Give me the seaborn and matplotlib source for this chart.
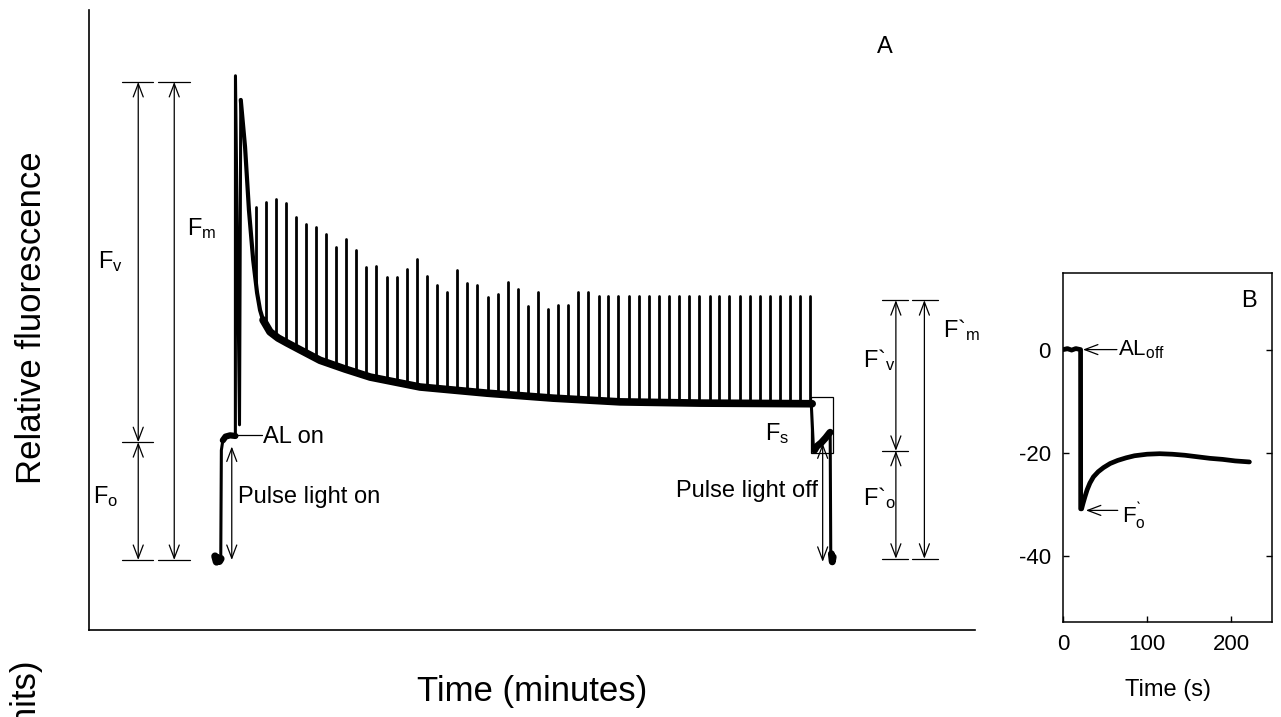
import numpy as np
import pandas as pd
import matplotlib
matplotlib.use("Agg")
import matplotlib.pyplot as plt
import seaborn as sns
from matplotlib.patches import Rectangle

# ---------------- Panel A data (time in minutes, relative fluorescence) ----------------
# dark level, pulse light on, AL on (Fm flash)
t_start = [4.10, 4.15, 4.20, 4.24, 4.29, 4.31, 4.36, 4.45, 4.60, 4.777, 4.78, 4.915, 4.957]
f_start = [11.9, 11.0, 11.6, 11.1, 11.5, 29.0, 30.6, 31.2, 31.4, 31.3, 89.4, 33.1, 85.5]

# steady-state decay of the fluorescence under actinic light
t_base = [4.957, 5.10, 5.23, 5.37, 5.50, 5.60, 5.70, 5.93, 6.20, 6.50, 6.93, 7.60,
          8.43, 9.27, 10.10, 10.93, 13.17, 15.37, 17.60, 20.27, 24.00]
f_base = [85.5, 77.9, 67.7, 59.7, 54.4, 51.6, 50.0, 48.1, 47.1, 46.3, 45.2, 43.5,
          42.1, 40.8, 40.0, 39.2, 38.2, 37.4, 36.8, 36.6, 36.5]

# saturating pulses (times and peak heights)
t_spike = [5.46, 5.79, 6.12, 6.46, 6.80, 7.13, 7.47, 7.80, 8.14, 8.48,
           8.81, 9.14, 9.48, 9.82, 10.16, 10.50, 10.83, 11.18, 11.51, 11.84,
           12.18, 12.51, 12.84, 13.19, 13.52, 13.86, 14.19, 14.53, 14.87, 15.20,
           15.53, 15.87, 16.21, 16.54, 16.88, 17.21, 17.54, 17.88, 18.22, 18.56,
           18.90, 19.23, 19.57, 19.90, 20.23, 20.58, 20.91, 21.24, 21.59, 21.92,
           22.26, 22.59, 22.93, 23.27, 23.60, 23.93]
f_spike = [68.3, 69.1, 69.6, 68.8, 66.6, 65.5, 65.0, 63.9, 61.8, 63.1,
           61.3, 58.5, 58.7, 56.9, 56.9, 58.2, 59.8, 57.1, 55.6, 54.6,
           58.0, 55.9, 55.6, 53.7, 54.2, 56.2, 55.0, 52.3, 54.6, 51.8,
           52.5, 52.5, 54.6, 54.6, 53.8, 53.8, 53.8, 53.8, 53.8, 53.8,
           53.8, 53.8, 53.8, 53.8, 53.8, 53.8, 53.8, 53.8, 53.8, 53.8,
           53.8, 53.8, 53.8, 53.8, 53.8, 53.8]

# AL off, Fs -> F'o, pulse light off
t_end = [23.97, 24.04, 24.08, 24.15, 24.30, 24.45, 24.58, 24.60, 24.62]
f_end = [36.5, 29.6, 29.0, 29.6, 30.2, 31.0, 31.8, 31.9, 11.8]
t_blob = [24.64, 24.67, 24.70]
f_blob = [12.3, 11.0, 11.8]

# annotation levels
fo_dark = 11.3
fo = 30.3
fm = 88.4
fm_p = 53.2
fo_p = 28.9
fo_dark2 = 11.5

# ---------------- Panel B data (time in s, relative fluorescence) ----------------
t_b = [0, 5, 10, 15, 20.7, 20.8, 21.9, 23.5, 25.8, 28.5, 31.8, 36.0, 41.7, 48.0,
       56.0, 65.0, 75.0, 85.0, 100, 115, 130, 145, 160, 175, 190, 205, 222]
f_b = [0.0, 0.2, -0.1, 0.2, 0.0, -30.9, -30.9, -29.9, -28.6, -27.2, -25.9, -24.7,
       -23.7, -22.9, -22.1, -21.5, -21.0, -20.6, -20.3, -20.2, -20.3, -20.5,
       -20.8, -21.1, -21.3, -21.6, -21.8]
b_xticks = [0, 100, 200]
b_yticks = [0, -20, -40]
b_al_off = 0.0
b_fo_p = -31.2

# ---------------- style ----------------
sns.set_theme(style="ticks")
plt.rcParams["font.family"] = ["Liberation Sans", "DejaVu Sans"]
plt.rcParams["mathtext.default"] = "regular"
plt.rcParams["axes.unicode_minus"] = False
k = "black"
for key in ["text.color", "axes.labelcolor", "xtick.color", "ytick.color", "axes.edgecolor"]:
    plt.rcParams[key] = k

fig = plt.figure(figsize=(12.81, 7.17), dpi=100)
ax = fig.add_axes([0.0695, 0.1213, 0.6917, 0.8647])

# trace
sns.lineplot(x=t_start, y=f_start, sort=False, estimator=None, color=k, lw=2.2, ax=ax)
sns.lineplot(x=t_start[:5], y=f_start[:5], sort=False, estimator=None, color=k, lw=5.5, ax=ax)
sns.lineplot(x=t_start[6:10], y=f_start[6:10], sort=False, estimator=None, color=k, lw=4.5, ax=ax)
sns.lineplot(x=t_base, y=f_base, sort=False, estimator=None, color=k, lw=3.0, ax=ax)
sns.lineplot(x=t_base[6:], y=f_base[6:], sort=False, estimator=None, color=k, lw=5.5, ax=ax)
rows = []
for i, (ts, fp) in enumerate(zip(t_spike, f_spike)):
    b = float(np.interp(ts, t_base, f_base))
    rows.append((i, ts, b))
    rows.append((i, ts, fp))
spk = pd.DataFrame(rows, columns=["spike", "t", "f"])
sns.lineplot(data=spk, x="t", y="f", units="spike", estimator=None, sort=False,
             color=k, lw=2.0, ax=ax, legend=False)
sns.lineplot(x=t_end, y=f_end, sort=False, estimator=None, color=k, lw=2.2, ax=ax)
sns.lineplot(x=t_end[2:8], y=f_end[2:8], sort=False, estimator=None, color=k, lw=5.0, ax=ax)
sns.lineplot(x=t_blob, y=f_blob, sort=False, estimator=None, color=k, lw=5.0, ax=ax)

ax.set_xlim(-0.1, 29.43)
ax.set_ylim(0, 100)
ax.set_xticks([])
ax.set_yticks([])
sns.despine(ax=ax)
for s in ["left", "bottom"]:
    ax.spines[s].set_linewidth(1.2)
    ax.spines[s].set_color(k)

fs = 17
thin = 0.9


def darrow(x, y0, y1, style="<->"):
    ax.annotate("", xy=(x, y1), xytext=(x, y0),
                arrowprops=dict(arrowstyle=style + ",head_length=0.95,head_width=0.36",
                                color=k, lw=thin, shrinkA=0, shrinkB=0,
                                mutation_scale=10))


def hmark(x0, x1, y):
    ax.plot([x0, x1], [y, y], color=k, lw=thin)


# left annotation block
for y in (fm, fo, fo_dark):
    hmark(0.99, 2.04, y)
for y in (fm, fo_dark):
    hmark(2.21, 3.27, y)
darrow(1.54, fm, fo)
darrow(1.54, fo, fo_dark)
darrow(2.74, fm, fo_dark)
ax.text(0.20, 58.4, "F$_{v}$", fontsize=fs, ha="left", va="baseline")
ax.text(0.03, 20.5, "F$_{o}$", fontsize=fs, ha="left", va="baseline")
ax.text(3.15, 63.7, "F$_{m}$", fontsize=fs, ha="left", va="baseline")

# AL on / pulse light on
ax.plot([4.83, 5.67], [31.5, 31.5], color=k, lw=thin)
ax.text(5.70, 30.2, "AL on", fontsize=fs, ha="left", va="baseline")
darrow(4.657, 29.6, fo_dark)
ax.text(4.87, 20.5, "Pulse light on", fontsize=fs, ha="left", va="baseline")

# end of trace: box, Fs, pulse light off
ax.add_patch(Rectangle((23.97, 28.6), 0.74, 9.0, fill=False, ec=k, lw=thin))
ax.text(22.43, 30.6, "F$_{s}$", fontsize=fs, ha="left", va="baseline")
darrow(24.35, 30.1, 11.0)
ax.text(24.20, 21.5, "Pulse light off", fontsize=fs, ha="right", va="baseline")

# right annotation block
for y in (fm_p, fo_p, fo_dark2):
    hmark(26.32, 27.21, y)
for y in (fm_p, fo_dark2):
    hmark(27.32, 28.21, y)
darrow(26.79, fm_p, fo_p)
darrow(26.79, fo_p, fo_dark2)
darrow(27.74, fm_p, fo_dark2)
ax.text(25.70, 42.4, "F`$_{v}$", fontsize=fs, ha="left", va="baseline")
ax.text(25.70, 20.2, "F`$_{o}$", fontsize=fs, ha="left", va="baseline")
ax.text(28.37, 47.3, "F`$_{m}$", fontsize=fs, ha="left", va="baseline")

ax.text(26.17, 93.1, "A", fontsize=fs, ha="left", va="baseline")

ax.set_ylabel("Relative fluorescence", fontsize=25)
ax.yaxis.set_label_coords(-0.046, 0.503)
ax.set_xlabel("Time (minutes)", fontsize=25)
ax.xaxis.set_label_coords(0.5, -0.072)
fig.text(24 / 1281, 1 - 657 / 717, "(units)", rotation=90, ha="center", va="top",
         fontsize=25)

# ---------------- Panel B ----------------
axb = fig.add_axes([0.8300, 0.1329, 0.1632, 0.4859])
sns.lineplot(x=t_b, y=f_b, sort=False, estimator=None, color=k, lw=3.4, ax=axb)
axb.set_xlim(0, 249.3)
axb.set_ylim(-52.8, 14.8)
axb.set_xticks(b_xticks)
axb.set_yticks(b_yticks)
axb.tick_params(direction="in", length=4, width=1, labelsize=16, right=True,
                left=True, bottom=True, color=k, labelcolor=k, pad=9)
for s in axb.spines.values():
    s.set_linewidth(1.1)
    s.set_color(k)
axb.annotate("", xy=(23.5, b_al_off), xytext=(64, b_al_off),
             arrowprops=dict(arrowstyle="->,head_length=0.95,head_width=0.36", color=k,
                             lw=thin, shrinkA=0, shrinkB=0, mutation_scale=10))
axb.text(65.5, -1.1, "AL$_{off}$", fontsize=16, ha="left", va="baseline")
axb.annotate("", xy=(27.0, b_fo_p), xytext=(65, b_fo_p),
             arrowprops=dict(arrowstyle="->,head_length=0.95,head_width=0.36", color=k,
                             lw=thin, shrinkA=0, shrinkB=0, mutation_scale=10))
axb.text(69.5, -33.8, "F$^{\u02cb}_{o}$", fontsize=16, ha="left", va="baseline")
axb.text(212.4, 8.27, "B", fontsize=fs, ha="left", va="baseline")
axb.set_xlabel("Time (s)", fontsize=17)
axb.xaxis.set_label_coords(0.5, -0.165)

fig.savefig("out.png", dpi=100)
